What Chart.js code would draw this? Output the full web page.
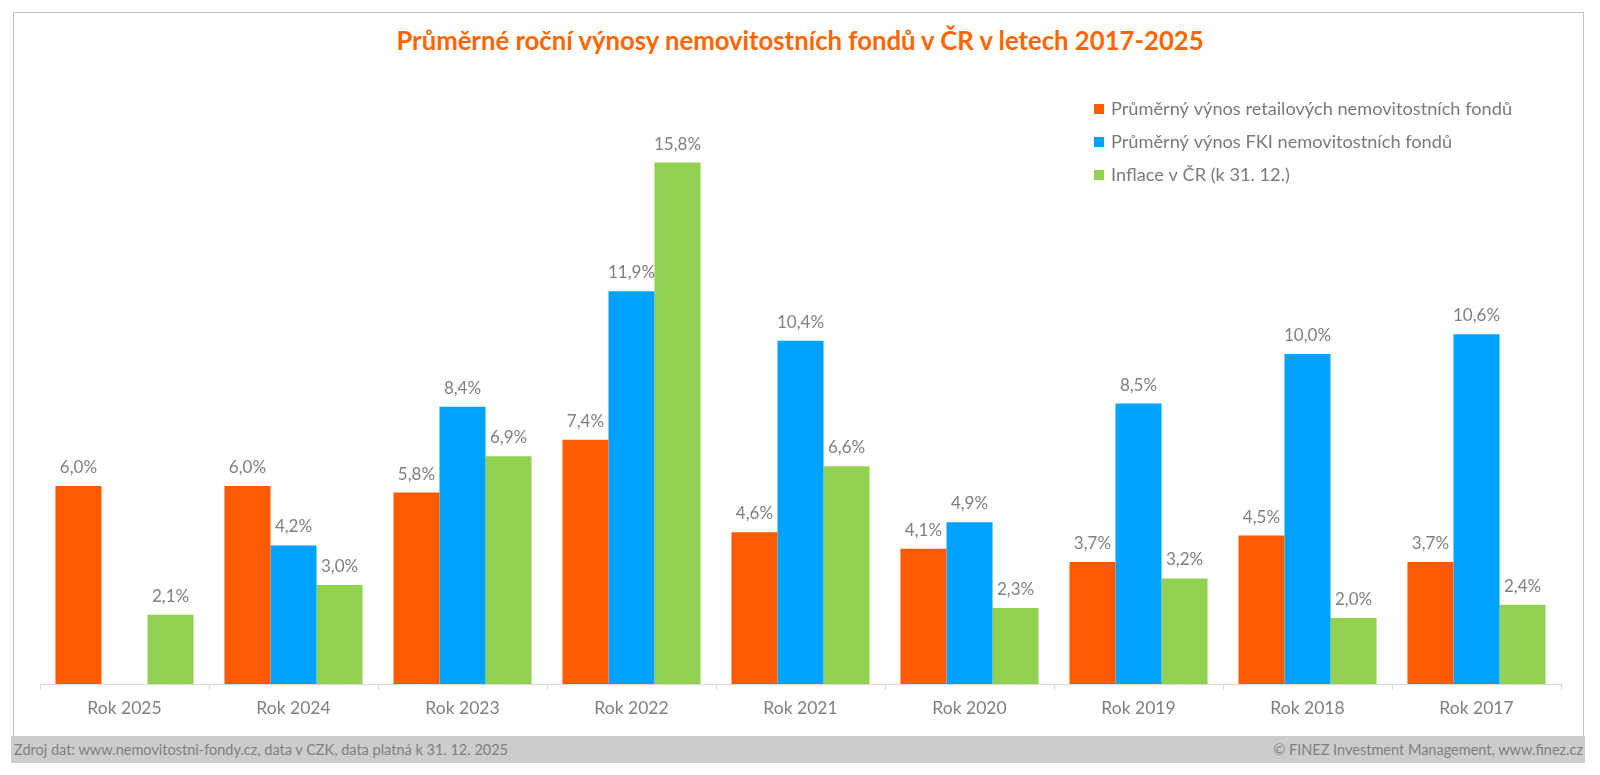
<!DOCTYPE html>
<html lang="cs">
<head>
<meta charset="utf-8">
<title>Průměrné roční výnosy nemovitostních fondů</title>
<script src="https://cdn.jsdelivr.net/npm/chart.js@4.4.1/dist/chart.umd.min.js"></script>
<style>
  html, body { margin: 0; padding: 0; background: #fff; }
  #wrap { position: relative; width: 1600px; height: 775px; font-family: Lato, "Open Sans", sans-serif; }
  #ramecek { position: absolute; left: 13px; top: 12px; width: 1571px; height: 724px;
    border: 1px solid #c3c3c3; border-bottom: none; box-sizing: border-box; }
  #titulek { position: absolute; left: 0; top: 25px; width: 1600px; text-align: center;
    color: #ff6600; font-weight: 700; font-size: 25.7px; }
  #paticka { position: absolute; left: 11px; top: 736px; width: 1574px; height: 27px; background: #cccccc;
    color: #7f7f7f; font-size: 14.5px; line-height: 27px; }
  #paticka .vlevo { position: absolute; left: 3px; }
  #paticka .vpravo { position: absolute; right: 2px; }
  canvas { position: absolute; left: 0; top: 0; }
</style>
</head>
<body>
<div id="wrap">
  <div id="ramecek"></div>
  <div id="titulek">Průměrné roční výnosy nemovitostních fondů v ČR v letech 2017-2025</div>
  <canvas id="graf" width="1600" height="775"></canvas>
  <div id="paticka">
    <span class="vlevo">Zdroj dat: www.nemovitostni-fondy.cz, data v CZK, data platná k 31. 12. 2025</span>
    <span class="vpravo">© FINEZ Investment Management, www.finez.cz</span>
  </div>
</div>
<script>
// Data
const roky = ['Rok 2025', 'Rok 2024', 'Rok 2023', 'Rok 2022', 'Rok 2021', 'Rok 2020', 'Rok 2019', 'Rok 2018', 'Rok 2017'];
const vynosRetail = [6.0, 6.0, 5.8, 7.4, 4.6, 4.1, 3.7, 4.5, 3.7];
const vynosFki = [null, 4.2, 8.4, 11.9, 10.4, 4.9, 8.5, 10.0, 10.6];
const inflace = [2.1, 3.0, 6.9, 15.8, 6.6, 2.3, 3.2, 2.0, 2.4];

const nazvySerii = [
  'Průměrný výnos retailových nemovitostních fondů',
  'Průměrný výnos FKI nemovitostních fondů',
  'Inflace v ČR (k 31. 12.)'
];
const barvy = ['#ff5a00', '#00a2ff', '#92d050'];

function formatProcenta(v) {
  return v.toFixed(1).replace('.', ',') + '%';
}

// popisky hodnot nad sloupci
const popiskyHodnot = {
  id: 'popiskyHodnot',
  afterDatasetsDraw(chart) {
    const ctx = chart.ctx;
    ctx.save();
    ctx.font = '17px Lato';
    ctx.fillStyle = '#808080';
    ctx.textAlign = 'center';
    ctx.textBaseline = 'alphabetic';
    chart.data.datasets.forEach((ds, i) => {
      const meta = chart.getDatasetMeta(i);
      meta.data.forEach((el, j) => {
        const v = ds.data[j];
        if (v === null || v === undefined) return;
        ctx.fillText(formatProcenta(v), el.x, el.y - 13);
      });
    });
    ctx.restore();
  }
};

// legenda vpravo nahore
const legendaVpravo = {
  id: 'legendaVpravo',
  afterDraw(chart) {
    const ctx = chart.ctx;
    ctx.save();
    ctx.font = '18.2px Lato';
    ctx.textBaseline = 'middle';
    ctx.textAlign = 'left';
    chart.data.datasets.forEach((ds, i) => {
      const y = 109 + i * 33;
      ctx.fillStyle = ds.backgroundColor;
      ctx.fillRect(1094, y - 5, 10, 10);
      ctx.fillStyle = '#7a7a7a';
      ctx.fillText(ds.label, 1111, y);
    });
    ctx.restore();
  }
};

new Chart(document.getElementById('graf').getContext('2d'), {
  type: 'bar',
  data: {
    labels: roky,
    datasets: [
      { label: nazvySerii[0], data: vynosRetail, backgroundColor: barvy[0] },
      { label: nazvySerii[1], data: vynosFki, backgroundColor: barvy[1] },
      { label: nazvySerii[2], data: inflace, backgroundColor: barvy[2] }
    ]
  },
  options: {
    responsive: false,
    animation: false,
    events: [],
    datasets: {
      bar: { categoryPercentage: 0.817, barPercentage: 1.0 }
    },
    layout: {
      padding: { top: 90, left: 40, right: 39, bottom: 51 }
    },
    plugins: {
      legend: { display: false },
      title: { display: false },
      tooltip: { enabled: false }
    },
    scales: {
      x: {
        afterFit(scale) { scale.height = 40; },
        grid: { drawOnChartArea: false, drawTicks: true, tickLength: 6, color: '#d9d9d9' },
        border: { color: '#d9d9d9' },
        ticks: { color: '#808080', font: { family: 'Lato', size: 17.5 }, padding: 8 }
      },
      y: {
        display: false,
        min: 0,
        max: 18
      }
    }
  },
  plugins: [popiskyHodnot, legendaVpravo]
});
</script>
</body>
</html>
